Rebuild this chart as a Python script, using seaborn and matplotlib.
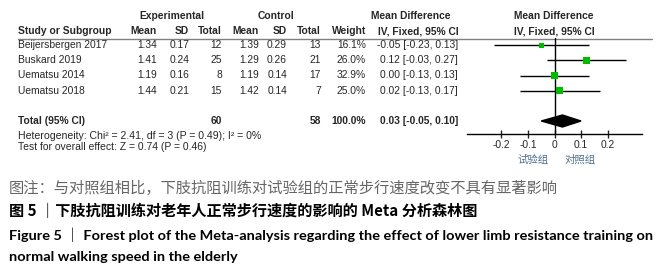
import numpy as np
import pandas as pd
import matplotlib
matplotlib.use('Agg')
import matplotlib.pyplot as plt
import seaborn as sns

# Dados do forest plot
studies = ['Beijersbergen 2017', 'Buskard 2019', 'Uematsu 2014', 'Uematsu 2018']
exp_mean = [1.34, 1.41, 1.19, 1.44]
exp_sd = [0.17, 0.24, 0.16, 0.21]
exp_n = [12, 25, 8, 15]
ctl_mean = [1.39, 1.29, 1.19, 1.42]
ctl_sd = [0.29, 0.26, 0.14, 0.14]
ctl_n = [13, 21, 17, 7]
weight = [16.1, 26.0, 32.9, 25.0]
md = [-0.05, 0.12, 0.00, 0.02]
md_lo = [-0.23, -0.03, -0.13, -0.13]
md_hi = [0.13, 0.27, 0.13, 0.17]
total_exp, total_ctl = 60, 58
total_md, total_lo, total_hi = 0.03, -0.05, 0.10
xticks = [-0.2, -0.1, 0, 0.1, 0.2]
xtick_labels = ['-0.2', '-0.1', '0', '0.1', '0.2']

sns.set_style('white')
plt.rcParams['font.family'] = ['Liberation Sans', 'DejaVu Sans']

fig = plt.figure(figsize=(6.6, 2.73), dpi=100)
ax = fig.add_axes([0, 0, 1, 1])
ax.set_xlim(0, 660)
ax.set_ylim(273, 0)
ax.axis('off')
renderer = fig.canvas.get_renderer()


def fit_width(t, target_px):
    # ajusta o tamanho da fonte para a largura do texto na imagem de referencia
    w = t.get_window_extent(renderer=renderer).width
    t.set_fontsize(t.get_fontsize() * target_px / w)


fs = 7.4
# cabecalho
ax.text(172, 16, 'Experimental', ha='center', va='center', fontsize=fs, fontweight='bold')
ax.text(276, 16, 'Control', ha='center', va='center', fontsize=fs, fontweight='bold')
ax.text(411, 16, 'Mean Difference', ha='center', va='center', fontsize=fs, fontweight='bold')
ax.text(554, 16, 'Mean Difference', ha='center', va='center', fontsize=fs, fontweight='bold')
hy = 31.5
ax.text(18, hy, 'Study or Subgroup', ha='left', va='center', fontsize=fs, fontweight='bold')
for xr, lab in zip([157, 189, 222, 259, 287, 321, 366],
                   ['Mean', 'SD', 'Total', 'Mean', 'SD', 'Total', 'Weight']):
    ax.text(xr, hy, lab, ha='right', va='center', fontsize=fs, fontweight='bold')
ax.text(418, hy, 'IV, Fixed, 95% CI', ha='center', va='center', fontsize=fs, fontweight='bold')
ax.text(554, hy, 'IV, Fixed, 95% CI', ha='center', va='center', fontsize=fs, fontweight='bold')
ax.plot([18, 652], [38.5, 38.5], color='#808080', lw=1)

rows = [45.3 + 15.1 * i for i in range(len(studies))]
for i, y in enumerate(rows):
    ax.text(18, y, studies[i], ha='left', va='center', fontsize=fs)
    vals = [f'{exp_mean[i]:.2f}', f'{exp_sd[i]:.2f}', str(exp_n[i]),
            f'{ctl_mean[i]:.2f}', f'{ctl_sd[i]:.2f}', str(ctl_n[i]), f'{weight[i]:.1f}%']
    for xr, v in zip([157, 189, 222, 259, 287, 321, 366], vals):
        ax.text(xr, y, v, ha='right', va='center', fontsize=fs)
    ax.text(458, y, f'{md[i]:.2f} [{md_lo[i]:.2f}, {md_hi[i]:.2f}]', ha='right', va='center', fontsize=fs)

ty = 121
ax.text(18, ty, 'Total (95% CI)', ha='left', va='center', fontsize=fs, fontweight='bold')
ax.text(222, ty, str(total_exp), ha='right', va='center', fontsize=fs, fontweight='bold')
ax.text(321, ty, str(total_ctl), ha='right', va='center', fontsize=fs, fontweight='bold')
ax.text(366, ty, '100.0%', ha='right', va='center', fontsize=fs, fontweight='bold')
ax.text(458, ty, f'{total_md:.2f} [{total_lo:.2f}, {total_hi:.2f}]', ha='right', va='center',
        fontsize=fs, fontweight='bold')
t = ax.text(18, 136, 'Heterogeneity: Chi² = 2.41, df = 3 (P = 0.49); I² = 0%', ha='left', va='center', fontsize=7)
fit_width(t, 243)
t = ax.text(18, 147, 'Test for overall effect: Z = 0.74 (P = 0.46)', ha='left', va='center', fontsize=7)
fit_width(t, 188)

# eixo do forest plot
top, bottom = 38.5, 134.3
fax = fig.add_axes([467 / 660, (273 - bottom) / 273, 175 / 660, (bottom - top) / 273])
fax.set_xlim(-0.33, 0.33)
fax.set_ylim(bottom, top)
fax.patch.set_alpha(0)
for s in ['top', 'left', 'right']:
    fax.spines[s].set_visible(False)
fax.spines['bottom'].set_color('black')
fax.spines['bottom'].set_linewidth(1)
fax.axvline(0, color='black', lw=1)
fax.hlines(rows, md_lo, md_hi, color='black', lw=1)
df = pd.DataFrame({'md': md, 'row': rows, 'weight': weight})
sns.scatterplot(data=df, x='md', y='row', size='weight', sizes=(15, 30), marker='s',
                color='#00bb00', edgecolor='none', legend=False, ax=fax, zorder=3)
fax.fill([total_lo, total_md, total_hi, total_md], [ty, ty - 6, ty, ty + 6], color='black', zorder=3)
fax.set_xticks(xticks)
fax.set_xticklabels(xtick_labels)
fax.set_yticks([])
fax.set_xlabel('')
fax.set_ylabel('')
fax.tick_params(axis='x', direction='inout', length=6, width=1, pad=1, labelsize=fs, bottom=True)

cjk = ['Noto Sans CJK SC', 'DejaVu Sans']
ax.text(533, 160, '试验组', ha='center', va='center', fontsize=7.5, color='#4f6f8f', family=cjk)
ax.text(580, 160, '对照组', ha='center', va='center', fontsize=7.5, color='#4f6f8f', family=cjk)

# legendas
t = ax.text(9, 188.3, '图注：与对照组相比，下肢抗阻训练对试验组的正常步行速度改变不具有显著影响',
            ha='left', va='center', fontsize=11, color='#666666', family=cjk)
fit_width(t, 550)
t = ax.text(9, 211, '图 5 ｜下肢抗阻训练对老年人正常步行速度的影响的 Meta 分析森林图',
            ha='left', va='center', fontsize=11, color='black', fontweight='bold', family=cjk)
fit_width(t, 468)
t3 = ax.text(9, 235, 'Figure 5 ｜ Forest plot of the Meta-analysis regarding the effect of lower limb resistance training on',
             ha='left', va='center', fontsize=10.5, color='black', fontweight='bold', family=['Lato'] + cjk)
fit_width(t3, 643)
ax.text(9, 257, 'normal walking speed in the elderly',
        ha='left', va='center', fontsize=t3.get_fontsize(), color='black', fontweight='bold', family=['Lato'] + cjk)

fig.savefig('out.png', dpi=100)
